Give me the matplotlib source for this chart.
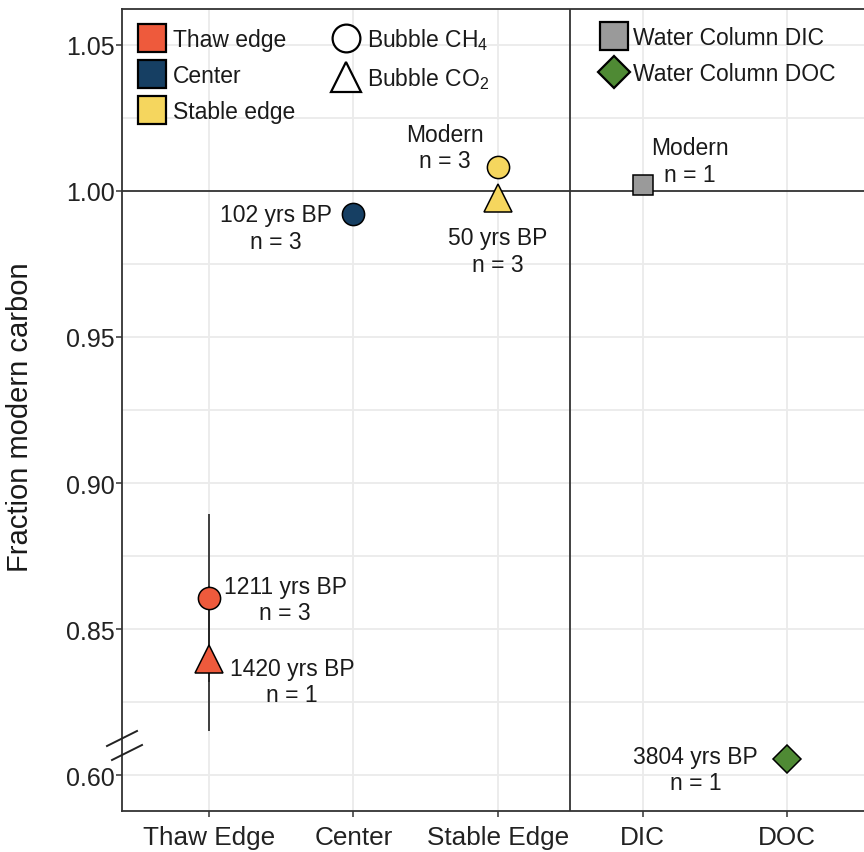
import numpy as np
import matplotlib
matplotlib.use("Agg")
import matplotlib.pyplot as plt
from matplotlib.lines import Line2D

plt.rcParams["font.family"] = ["Liberation Sans", "DejaVu Sans"]
plt.rcParams["mathtext.fontset"] = "custom"
plt.rcParams["mathtext.rm"] = "Liberation Sans"
plt.rcParams["mathtext.it"] = "Liberation Sans:italic"
plt.rcParams["mathtext.bf"] = "Liberation Sans:bold"

# ---- data -------------------------------------------------------------
categories = ["Thaw Edge", "Center", "Stable Edge", "DIC", "DOC"]
site_names = ["Thaw edge", "Center", "Stable edge"]
site_colors = ["#EE5A3C", "#163F63", "#F5D65E"]

ch4_fmc = [0.8606, 0.9921, 1.0082]
ch4_err = [0.0288, 0.0010, 0.0]
ch4_labels = ["1211 yrs BP\nn = 3", "102 yrs BP\nn = 3", "Modern\nn = 3"]

co2_fmc = [0.8399, np.nan, 0.9976]
co2_err = [0.0248, np.nan, 0.0]
co2_labels = ["1420 yrs BP\nn = 1", "", "50 yrs BP\nn = 3"]

dic_fmc = 1.0021
dic_label = "Modern\nn = 1"
doc_fmc = 0.6055
doc_label = "3804 yrs BP\nn = 1"

ytick_values = [0.60, 0.85, 0.90, 0.95, 1.00, 1.05]

# ---- broken y axis: values below the break are shifted up ---------------
BREAK = 0.70
SHIFT = 0.20


def to_axis(v):
    v = np.asarray(v, dtype=float)
    return np.where(v < BREAK, v + SHIFT, v)


fig = plt.figure(figsize=(8.64, 8.53), dpi=100)
W, H = 864, 853
AX_W, AX_H = 752, 802
ax = fig.add_axes([122 / W, 41 / H, AX_W / W, AX_H / H])

x_pos = np.arange(1, len(categories) + 1)
site_x = x_pos[:3]

txt_color = "#1a1a1a"
edge_kw = dict(markeredgecolor="black", markeredgewidth=1.1)

# error bars under the markers
ax.errorbar(site_x, to_axis(ch4_fmc), yerr=ch4_err, fmt="none",
            ecolor="#222222", elinewidth=1.2, capsize=0, zorder=3)
ax.errorbar(site_x, to_axis(co2_fmc), yerr=co2_err, fmt="none",
            ecolor="#222222", elinewidth=1.2, capsize=0, zorder=3)

for i in range(3):
    ax.plot(site_x[i], to_axis(ch4_fmc[i]), "o", markersize=16,
            markerfacecolor=site_colors[i], zorder=5, **edge_kw)
    if not np.isnan(co2_fmc[i]):
        ax.plot(site_x[i], to_axis(co2_fmc[i]), "^", markersize=20,
                markerfacecolor=site_colors[i], zorder=5, **edge_kw)

ax.plot(x_pos[3], to_axis(dic_fmc), "s", markersize=15,
        markerfacecolor="#9A9A9A", zorder=5, **edge_kw)
ax.plot(x_pos[4], to_axis(doc_fmc), "D", markersize=14,
        markerfacecolor="#4F8A34", zorder=5, **edge_kw)

# annotations (offsets in points)
lab_fs = 16.5
ch4_off = [(55, -1), (-56, -10), (-38, 14)]
co2_off = [(60, -16.5), None, (0, -38)]
for i in range(3):
    ax.annotate(ch4_labels[i], (site_x[i], to_axis(ch4_fmc[i])),
                xytext=ch4_off[i], textcoords="offset points",
                ha="center", va="center", fontsize=lab_fs, color=txt_color,
                zorder=6)
    if co2_labels[i]:
        ax.annotate(co2_labels[i], (site_x[i], to_axis(co2_fmc[i])),
                    xytext=co2_off[i], textcoords="offset points",
                    ha="center", va="center", fontsize=lab_fs,
                    color=txt_color, zorder=6)
ax.annotate(dic_label, (x_pos[3], to_axis(dic_fmc)), xytext=(34, 17),
            textcoords="offset points", ha="center", va="center",
            fontsize=lab_fs, color=txt_color, zorder=6)
ax.annotate(doc_label, (x_pos[4], to_axis(doc_fmc)), xytext=(-66, -7.5),
            textcoords="offset points", ha="center", va="center",
            fontsize=lab_fs, color=txt_color, zorder=6)

# reference lines
ax.axhline(1.0, color="#333333", linewidth=1.3, zorder=2)
ax.axvline(3.5, color="#333333", linewidth=1.3, zorder=2)

# axes, ticks and grid
ax.set_xlim(0.4, 5.6)
ax.set_ylim(0.7877, 1.0623)
ax.set_xticks(x_pos)
ax.set_xticklabels(categories)
major_y = to_axis(ytick_values)
ax.set_yticks(major_y)
ax.set_yticklabels([f"{v:.2f}" for v in ytick_values])
ax.set_yticks(np.arange(0.825, 1.05, 0.05), minor=True)
ax.grid(True, which="major", color="#EBEBEB", linewidth=1.3, zorder=0)
ax.grid(True, which="minor", axis="y", color="#EBEBEB", linewidth=1.3, zorder=0)
ax.set_axisbelow(True)
ax.tick_params(axis="both", which="major", labelcolor="#222222",
               color="#333333", length=4, width=1.1)
ax.tick_params(axis="y", which="major", pad=1, labelsize=18)
ax.tick_params(axis="x", which="major", pad=6, labelsize=18.8)
ax.tick_params(axis="y", which="minor", length=0)
for s in ax.spines.values():
    s.set_color("#333333")
    s.set_linewidth(1.3)

fig.text(20 / W, 1 - 417 / H, "Fraction modern carbon", rotation=90,
         ha="center", va="center", fontsize=21, color=txt_color)

# axis break marks
for (x0, y0, x1, y1) in [(107, 747, 137, 732), (112, 761, 142, 746)]:
    fig.add_artist(Line2D([x0 / W, x1 / W], [1 - y0 / H, 1 - y1 / H],
                          transform=fig.transFigure, color="#222222",
                          linewidth=1.4))

# legends
site_handles = [Line2D([], [], linestyle="none", marker="s", markersize=20,
                       markerfacecolor=c, markeredgecolor="black",
                       markeredgewidth=1.6, label=n)
                for c, n in zip(site_colors, site_names)]
gas_handles = [
    Line2D([], [], linestyle="none", marker="o", markersize=20,
           markerfacecolor="white", markeredgecolor="black",
           markeredgewidth=1.6, label="Bubble CH$_4$"),
    Line2D([], [], linestyle="none", marker="^", markersize=21,
           markerfacecolor="white", markeredgecolor="black",
           markeredgewidth=1.6, label="Bubble CO$_2$"),
]
leg1 = ax.legend(handles=site_handles + gas_handles, ncol=2,
                 loc="upper left",
                 bbox_to_anchor=(2 / AX_W, 1.0 - 3.5 / AX_H),
                 frameon=False, fontsize=16.5, handlelength=1.2,
                 handletextpad=0.32, columnspacing=1.65, labelspacing=0.56,
                 borderaxespad=0.3, borderpad=0.3)
for t in leg1.get_texts():
    t.set_color(txt_color)
ax.add_artist(leg1)

water_handles = [
    Line2D([], [], linestyle="none", marker="s", markersize=20,
           markerfacecolor="#9A9A9A", markeredgecolor="black",
           markeredgewidth=1.6, label="Water Column DIC"),
    Line2D([], [], linestyle="none", marker="D", markersize=16,
           markerfacecolor="#4F8A34", markeredgecolor="black",
           markeredgewidth=1.6, label="Water Column DOC"),
]
leg2 = ax.legend(handles=water_handles, loc="upper left",
                 bbox_to_anchor=((598 - 122 - 11) / AX_W, 1.0 - 3.5 / AX_H),
                 frameon=False, fontsize=16.5, handlelength=1.2,
                 handletextpad=0.2, labelspacing=0.57,
                 borderaxespad=0.3, borderpad=0.3)
for t in leg2.get_texts():
    t.set_color(txt_color)

fig.savefig("out.png", dpi=100)
